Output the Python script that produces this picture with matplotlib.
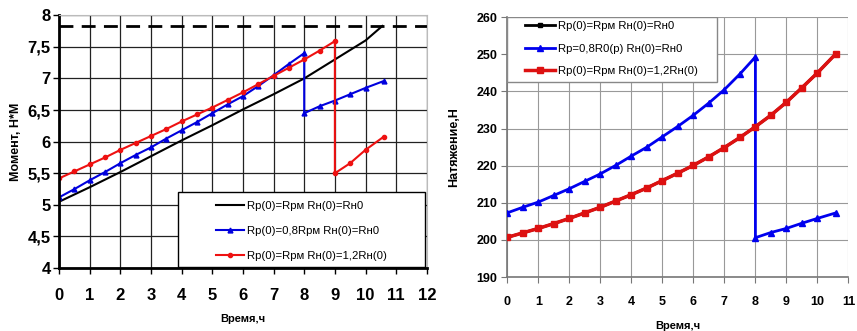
import matplotlib.pyplot as plt
from matplotlib.patches import Rectangle
from matplotlib.ticker import FuncFormatter, MultipleLocator

plt.rcParams['font.family'] = ['Liberation Sans', 'DejaVu Sans']

# ==================== данные: левый график (момент) ====================
black_t = [0, 1, 2, 3, 4, 5, 6, 7, 8, 9, 10, 10.55]
black_m = [5.05, 5.28, 5.52, 5.77, 6.02, 6.26, 6.51, 6.75, 7.0, 7.3, 7.6, 7.83]

blue_t = [0, 0.5, 1, 1.5, 2, 2.5, 3, 3.5, 4, 4.5, 5, 5.5, 6, 6.5, 7, 7.5, 8,
          8, 8.5, 9, 9.5, 10, 10.6]
blue_m = [5.12, 5.25, 5.39, 5.52, 5.66, 5.79, 5.91, 6.05, 6.18, 6.31, 6.45, 6.59,
          6.72, 6.88, 7.05, 7.23, 7.40,
          6.45, 6.56, 6.65, 6.75, 6.85, 6.96]

red_t = [0, 0.5, 1, 1.5, 2, 2.5, 3, 3.5, 4, 4.5, 5, 5.5, 6, 6.5, 7, 7.5, 8, 8.5, 9,
         9, 9.5, 10, 10.6]
red_m = [5.42, 5.53, 5.64, 5.75, 5.87, 5.98, 6.09, 6.2, 6.32, 6.43, 6.54, 6.66,
         6.78, 6.91, 7.04, 7.17, 7.30, 7.44, 7.59,
         5.50, 5.66, 5.87, 6.08]

m_limit = 7.83  # пунктир

# ==================== данные: правый график (натяжение) ====================
n_blue_t = [0, 0.5, 1, 1.5, 2, 2.5, 3, 3.5, 4, 4.5, 5, 5.5, 6, 6.5, 7, 7.5, 8,
            8, 8.5, 9, 9.5, 10, 10.6]
n_blue = [207.3, 208.8, 210.2, 212.0, 213.8, 215.8, 217.8, 220.1, 222.6, 225.0,
          227.8, 230.6, 233.6, 236.9, 240.5, 244.7, 249.3,
          200.6, 202.0, 203.1, 204.5, 205.8, 207.3]

n_red_t = [0, 0.5, 1, 1.5, 2, 2.5, 3, 3.5, 4, 4.5, 5, 5.5, 6, 6.5, 7, 7.5, 8,
           8.5, 9, 9.5, 10, 10.6]
n_red = [200.7, 201.9, 203.1, 204.4, 205.8, 207.3, 208.8, 210.5, 212.2, 214.0,
         216.0, 218.0, 220.1, 222.4, 224.9, 227.6, 230.5, 233.6, 237.1, 241.0,
         245.0, 250.2]
n_black = n_red  # совпадает с красной

lab_black = "Rр(0)=Rрм Rн(0)=Rн0"
lab_blue_l = "Rр(0)=0,8Rрм Rн(0)=Rн0"
lab_blue_r = "Rр=0,8R0(р) Rн(0)=Rн0"
lab_red = "Rр(0)=Rрм Rн(0)=1,2Rн(0)"

comma = FuncFormatter(lambda v, p: (f"{v:g}").replace('.', ','))

fig = plt.figure(figsize=(8.57, 3.31), dpi=100)

# ==================== левый ====================
ax1 = fig.add_axes([0.069, 0.19, 0.429, 0.764])
ax1.plot(black_t, black_m, color='black', lw=1.5, label=lab_black)
ax1.plot(blue_t, blue_m, color='#0000dd', lw=1.5, marker='^', ms=3.5, label=lab_blue_l)
ax1.plot(red_t, red_m, color='#ee1111', lw=1.5, marker='o', ms=3, label=lab_red)
ax1.axhline(m_limit, color='black', lw=2, ls=(0, (5, 3)))
ax1.set_xlim(0, 12)
ax1.set_ylim(4, 8)
ax1.xaxis.set_major_locator(MultipleLocator(1))
ax1.yaxis.set_major_locator(MultipleLocator(0.5))
ax1.yaxis.set_major_formatter(comma)
ax1.grid(True, color='#222222', lw=0.9)
ax1.set_axisbelow(True)
for s in ['top', 'right']:
    ax1.spines[s].set_color('#bbbbbb')
for s in ['left', 'bottom']:
    ax1.spines[s].set_linewidth(2)
ax1.tick_params(labelsize=12, length=4, width=1, pad=2)
ax1.tick_params(axis='x', pad=10)
for t in ax1.get_xticklabels() + ax1.get_yticklabels():
    t.set_fontweight('bold')
ax1.set_xlabel("Время,ч", fontsize=8, fontweight='bold', labelpad=8)
ax1.set_ylabel("Момент, Н*М", fontsize=9, fontweight='bold', labelpad=4)
# рамка легенды как в Excel (широкое поле слева)
ax1.add_patch(Rectangle((0.324, 0.003), 0.671, 0.297, transform=ax1.transAxes,
                        facecolor='white', edgecolor='black', lw=1, zorder=4))
leg1 = ax1.legend(loc='center', bbox_to_anchor=(0.66, 0.146), fontsize=8.2,
                  frameon=False, handlelength=2.45, borderpad=0,
                  labelspacing=1.3, handletextpad=0.25)
leg1.set_zorder(5)

# ==================== правый ====================
ax2 = fig.add_axes([0.592, 0.163, 0.398, 0.785])
ax2.plot(n_blue_t, n_blue, color='#0000ee', lw=2, marker='^', ms=4, label=lab_blue_r, zorder=3)
ax2.plot(n_red_t, n_black, color='black', lw=2, marker='s', ms=3.5, label=lab_black, zorder=2)
ax2.plot(n_red_t, n_red, color='#dd1111', lw=2.5, marker='s', ms=4, label=lab_red, zorder=4)
ax2.set_xlim(0, 11)
ax2.set_ylim(190, 260)
ax2.xaxis.set_major_locator(MultipleLocator(1))
ax2.yaxis.set_major_locator(MultipleLocator(10))
ax2.grid(True, color='#999999', lw=0.8)
ax2.set_axisbelow(True)
for s in ['top', 'right']:
    ax2.spines[s].set_visible(False)
for s in ['left', 'bottom']:
    ax2.spines[s].set_color('#777777')
    ax2.spines[s].set_linewidth(1.2)
ax2.tick_params(labelsize=9, length=4, color='#777777', pad=3)
ax2.tick_params(axis='x', pad=10)
for t in ax2.get_xticklabels() + ax2.get_yticklabels():
    t.set_fontweight('bold')
ax2.set_xlabel("Время,ч", fontsize=8, fontweight='bold', labelpad=9)
ax2.set_ylabel("Натяжение,Н", fontsize=9, fontweight='bold', labelpad=12)
ax2.add_patch(Rectangle((0.0, 0.75), 0.616, 0.25, transform=ax2.transAxes,
                        facecolor='white', edgecolor='#888888', lw=1, zorder=5))
h, l = ax2.get_legend_handles_labels()
leg2 = ax2.legend([h[1], h[0], h[2]], [l[1], l[0], l[2]], loc='center',
                  bbox_to_anchor=(0.305, 0.879), fontsize=8.2, frameon=False,
                  handlelength=2.6, borderpad=0, labelspacing=1.1,
                  handletextpad=0.25)
leg2.set_zorder(6)

fig.savefig("out.png", dpi=100)
